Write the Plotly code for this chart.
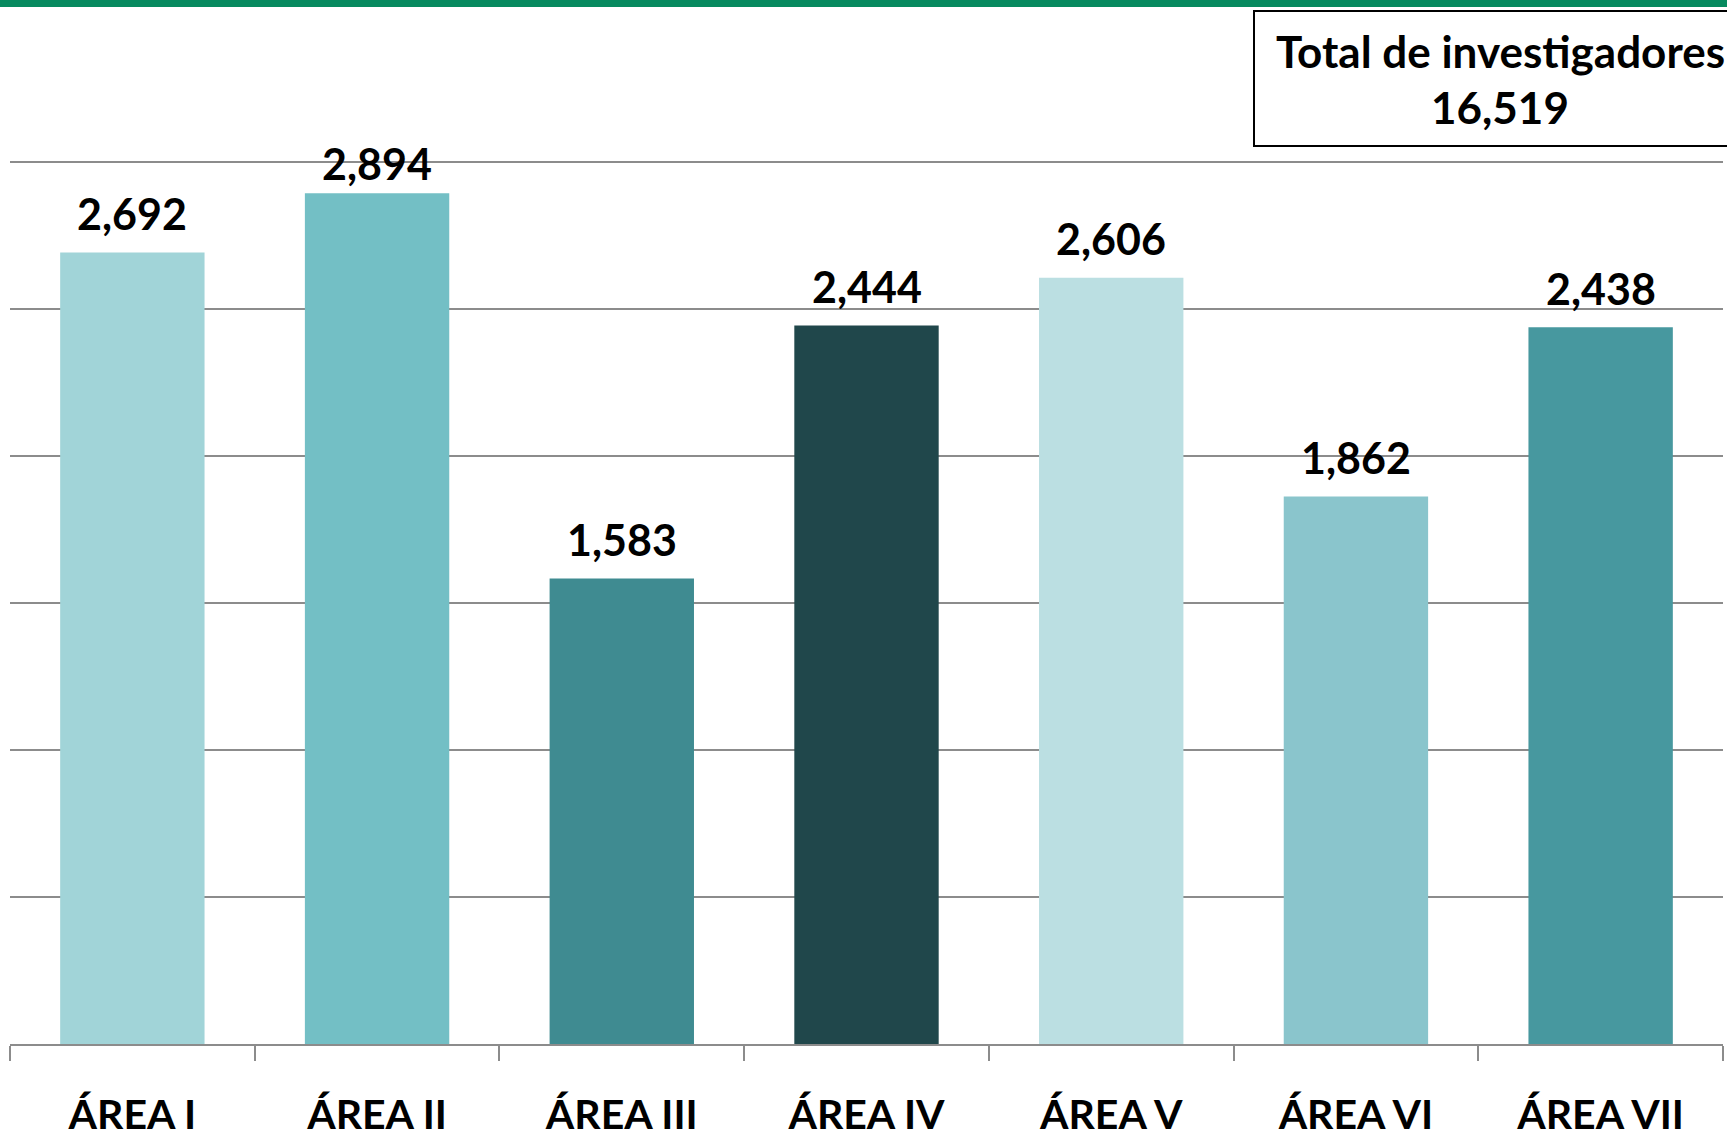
import plotly.graph_objects as go

categories = ["ÁREA I", "ÁREA II", "ÁREA III", "ÁREA IV", "ÁREA V", "ÁREA VI", "ÁREA VII"]
values = [2692, 2894, 1583, 2444, 2606, 1862, 2438]
value_labels = ["2,692", "2,894", "1,583", "2,444", "2,606", "1,862", "2,438"]
bar_colors = ["#A1D4D8", "#73BFC5", "#3F8B91", "#20474B", "#BBDFE2", "#8AC5CC", "#47989F"]
total_title = "Total de investigadores"
total_value = "16,519"
y_max = 3000

W, H = 1727, 1139
L, R, T, B = 10, 4, 160, 95
pw = W - L - R
ph = H - T - B
grid_top_px = 162  # pixel row of the top gridline
y_range_top = y_max * ph / (H - B - grid_top_px)

def px_x(px):
    return (px - L) / pw

def px_y(py):
    return (H - B - py) / ph

FONT = "Lato"
LABEL_OFFSET = 39     # px from bar top to label centre
LABEL_MIN_TOP = 164   # labels do not rise above this pixel row

fig = go.Figure()
fig.add_trace(go.Bar(
    x=categories, y=values,
    marker=dict(color=bar_colors, line=dict(width=0)),
    hoverinfo="skip",
))

px_per_unit = (H - B - grid_top_px) / y_max
for c, v, t in zip(categories, values, value_labels):
    bar_top = (H - B) - v * px_per_unit
    shift = min(LABEL_OFFSET, bar_top - LABEL_MIN_TOP)
    fig.add_annotation(x=c, y=v, xref="x", yref="y", text=f"<b>{t}</b>",
                       showarrow=False, yanchor="middle", yshift=shift,
                       font=dict(family=FONT, size=43, color="#000000"))

# green top band
fig.add_shape(type="rect", xref="paper", yref="paper",
              x0=px_x(0), x1=px_x(W), y0=px_y(7), y1=px_y(0),
              fillcolor="#078A5F", line=dict(width=0), layer="above")
# total box
fig.add_shape(type="rect", xref="paper", yref="paper",
              x0=px_x(1254), x1=px_x(1760), y0=px_y(146), y1=px_y(11),
              fillcolor="rgba(0,0,0,0)", line=dict(color="#000000", width=2), layer="above")
fig.add_annotation(xref="paper", yref="paper", x=px_x(1500), y=px_y(51),
                   text=f"<b>{total_title}</b>", showarrow=False,
                   xanchor="center", yanchor="middle",
                   font=dict(family=FONT, size=44, color="#000000"))
fig.add_annotation(xref="paper", yref="paper", x=px_x(1500), y=px_y(107),
                   text=f"<b>{total_value}</b>", showarrow=False,
                   xanchor="center", yanchor="middle",
                   font=dict(family=FONT, size=44, color="#000000"))

fig.update_layout(
    width=W, height=H,
    margin=dict(l=L, r=R, t=T, b=B, pad=0, autoexpand=False),
    paper_bgcolor="#FFFFFF", plot_bgcolor="#FFFFFF",
    showlegend=False,
    bargap=0.41,
)
fig.update_xaxes(
    type="category", tickson="boundaries", ticks="outside", ticklen=15,
    tickcolor="#8C8C8C", tickwidth=1.5,
    showline=True, linecolor="#8C8C8C", linewidth=1.5,
    showgrid=False, automargin=False,
    tickfont=dict(family=FONT, size=41, color="#000000"),
    ticklabelstandoff=34,
    tickvals=categories, ticktext=[f"<b>{c}</b>" for c in categories],
)
fig.update_yaxes(
    range=[0, y_range_top], tick0=0, dtick=500, showticklabels=False,
    showgrid=True, gridcolor="#8C8C8C", gridwidth=1.5,
    zeroline=False, showline=False, ticks="", automargin=False,
)

fig.write_html("out.html", config={"displayModeBar": False},
               post_script="document.body.style.margin='0';document.body.style.overflow='hidden';")
